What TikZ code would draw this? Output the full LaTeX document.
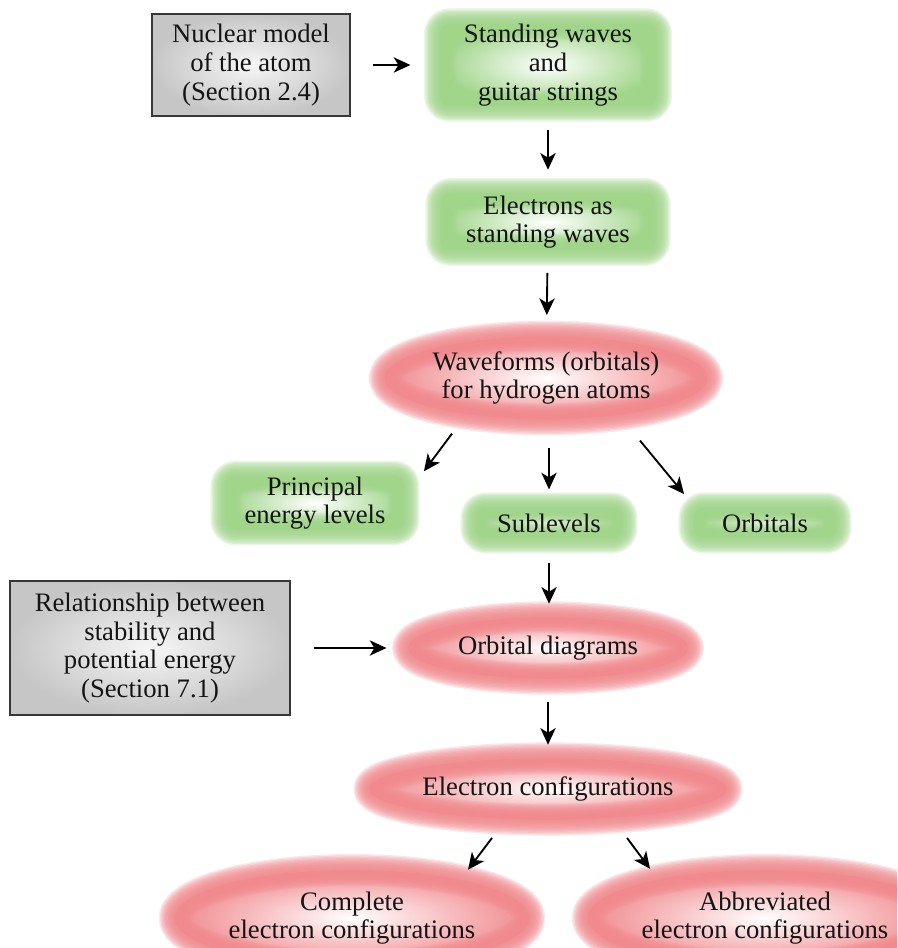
\documentclass[tikz,border=0pt]{standalone}
\usepackage{fontspec}
\setmainfont{Liberation Serif}
\newfontfamily\serifface{Liberation Serif}
\usetikzlibrary{shapes.geometric,arrows.meta}
\definecolor{gedge}{RGB}{160,213,138}
\definecolor{redge}{RGB}{241,138,142}
\definecolor{gborder}{RGB}{55,55,55}
\definecolor{gouter}{RGB}{198,198,198}
\definecolor{ginner}{RGB}{246,246,246}
\definecolor{txtc}{RGB}{20,20,20}
\tikzset{
  txt/.style={font=\serifface\fontsize{20}{21.5}\selectfont, text=txtc, align=center, inner sep=0pt},
  blur/.style={line join=round,
    postaction={draw=#1,line width=2pt,draw opacity=0.2},
    postaction={draw=#1,line width=4pt,draw opacity=0.2},
    postaction={draw=#1,line width=6pt,draw opacity=0.2},
    postaction={draw=#1,line width=8pt,draw opacity=0.2},
    postaction={draw=#1,line width=10pt,draw opacity=0.2},
    postaction={draw=#1,line width=12pt,draw opacity=0.2},
    postaction={draw=#1,line width=14pt,draw opacity=0.2},
    postaction={draw=#1,line width=16pt,draw opacity=0.2},
    postaction={draw=#1,line width=18pt,draw opacity=0.2},
    postaction={draw=#1,line width=20pt,draw opacity=0.2},
    postaction={draw=#1,line width=22pt,draw opacity=0.2},
    postaction={draw=#1,line width=24pt,draw opacity=0.2}},
  greenbox/.style={txt, rectangle, rounded corners=7pt, inner color=white, outer color=gedge, blur=gedge},
  redell/.style={txt, ellipse, inner color=white, outer color=redge, blur=redge},
  graybox/.style={txt, rectangle, draw=gborder, line width=0.8pt, inner color=ginner, outer color=gouter},
  arr/.style={draw=black, line width=1.4pt, -{Stealth[length=12.5pt,width=11.5pt,inset=3.5pt]}}
}
\begin{document}
\begin{tikzpicture}[x=0.75pt,y=-0.75pt]
\useasboundingbox (0,0) rectangle (897,948);
\clip (0,0) rectangle (897,948);
\fill[white] (0,0) rectangle (897,948);

% nodes
\node[graybox, minimum width=148.5pt, minimum height=76.5pt] (nuc) at (251,65)
  {Nuclear model\\of the atom\\(Section 2.4)};
\node[greenbox, minimum width=162pt, minimum height=56pt] (sw) at (548,65)
  {Standing waves\\and\\guitar strings};
\node[greenbox, minimum width=160pt, minimum height=42pt] (ew) at (548,222)
  {Electrons as\\standing waves};
\node[redell, minimum width=242pt, minimum height=62pt] (wf) at (546,378)
  {Waveforms (orbitals)\\for hydrogen atoms};
\node[greenbox, minimum width=133pt, minimum height=39pt] (pr) at (315,503)
  {Principal\\energy levels};
\node[greenbox, minimum width=109pt, minimum height=22pt] (sub) at (549,523)
  {Sublevels};
\node[greenbox, minimum width=106pt, minimum height=22pt] (orb) at (765,523)
  {Orbitals};
\node[graybox, minimum width=210pt, minimum height=100.5pt] (rel) at (150,648)
  {Relationship between\\stability and\\potential energy\\(Section 7.1)};
\node[redell, minimum width=210pt, minimum height=46pt] (od) at (548,648)
  {Orbital diagrams};
\node[redell, minimum width=268pt, minimum height=46pt] (ec) at (548,789)
  {Electron configurations};
\node[redell, minimum width=266pt, minimum height=72pt] (cec) at (352,918)
  {Complete\\electron configurations};
\node[redell, minimum width=266pt, minimum height=72pt] (aec) at (765,918)
  {Abbreviated\\electron configurations};

% connectors
\draw[arr, shorten <=16.5pt, shorten >=22pt] (nuc) -- (sw);
\draw[arr, shorten <=18pt, shorten >=18pt] (sw) -- (ew);
\draw[arr, shorten <=17pt, shorten >=16pt] (ew) -- (wf);
\draw[arr] ([shift={(-94,14)}]wf.south) -- ([shift={(20,-5)}]pr.north east);
\draw[arr, shorten <=21pt, shorten >=14pt] (wf.south -| sub.north) -- (sub.north);
\draw[arr] ([shift={(94,21)}]wf.south) -- ([shift={(-10,-14)}]orb.north west);
\draw[arr, shorten <=18.5pt, shorten >=10pt] (sub.south) -- (sub.south |- od.north);
\draw[arr, shorten <=17.25pt, shorten >=16pt] (rel.east) -- (rel.east -| od.west);
\draw[arr, shorten <=17pt, shorten >=10pt] (od.south) -- (ec.north);
\draw[arr] ([shift={(-56,18)}]ec.south) -- ([shift={(116,0)}]cec.north);
\draw[arr] ([shift={(79,18)}]ec.south) -- ([shift={(-115,-1)}]aec.north);
\end{tikzpicture}
\end{document}
